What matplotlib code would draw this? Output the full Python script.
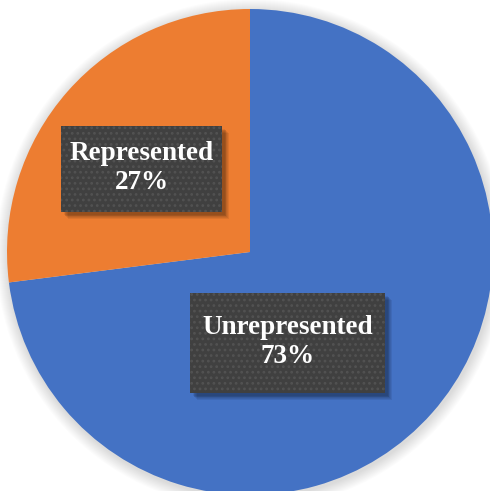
import matplotlib

matplotlib.use("Agg")
import matplotlib.pyplot as plt
from matplotlib.patches import Circle, Rectangle

# --- Data ---------------------------------------------------------------------
labels = ["Unrepresented", "Represented"]
shares = [73, 27]
colors = ["#4472C4", "#ED7D31"]

# label box layout (pixel space of the 490x491 canvas, y measured from top)
boxes = {
    "Represented": (61, 126, 161, 86),
    "Unrepresented": (190, 293, 195, 100),
}

W, H = 490, 491
CX, CY, R = 250, H - 252, 243

fig = plt.figure(figsize=(4.9, 4.91), dpi=100)
ax = fig.add_axes([0, 0, 1, 1])
ax.set_axis_off()

# soft shadow around the pie
for i in range(12):
    ax.add_patch(Circle((CX + 1, CY - 2), R + 12 - i, color="black",
                        alpha=0.012, lw=0, zorder=0))

ax.pie(shares, colors=colors, startangle=90, counterclock=False,
       center=(CX, CY), radius=R, wedgeprops=dict(linewidth=0))

plt.rcParams["hatch.linewidth"] = 1.2
for name, pct in zip(labels, shares):
    x, y, w, h = boxes[name]
    y0 = H - y - h
    for k in range(6):
        ax.add_patch(Rectangle((x + 3 + k * 0.7, y0 - 3 - k * 0.7), w, h,
                               color="black", alpha=0.07, lw=0, zorder=3))
    ax.add_patch(Rectangle((x, y0), w, h, facecolor="#404040",
                           edgecolor="#525252", hatch="...", lw=0, zorder=4))
    ax.text(x + w / 2, y0 + h / 2 + 1, f"{name}\n{pct}%", ha="center", va="center",
            color="white", fontsize=19.5, fontweight="bold",
            family="Liberation Serif", linespacing=1.2, zorder=5)

ax.set_xlim(0, W)
ax.set_ylim(0, H)
ax.set_aspect("auto")
fig.savefig("out.png", dpi=100)
